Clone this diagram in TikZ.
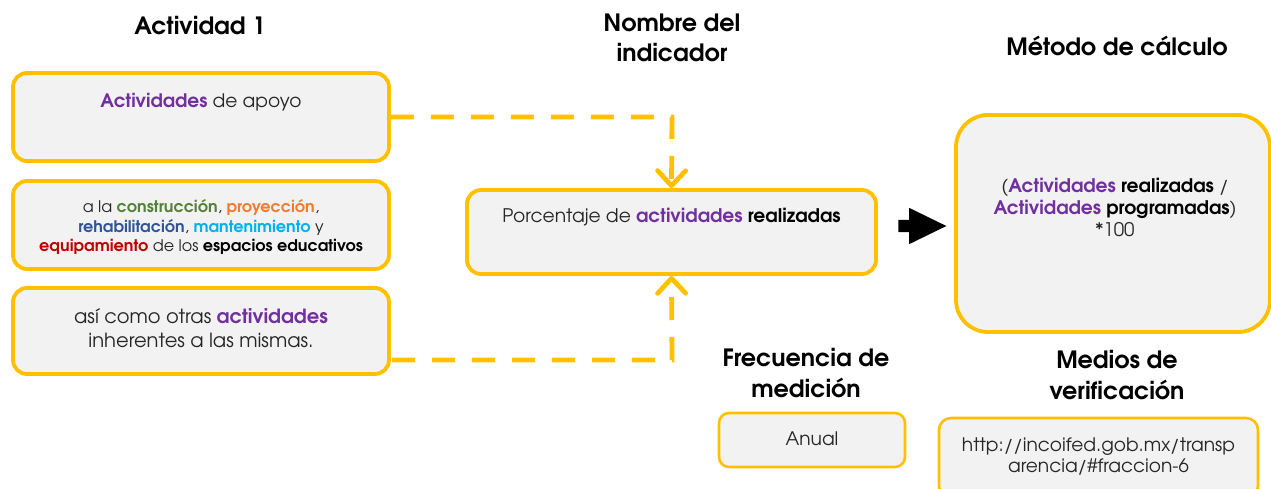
\documentclass[tikz,border=0pt]{standalone}
\usepackage{fontspec}
\setmainfont{texgyreadventor}[Extension=.otf, UprightFont=*-regular, BoldFont=*-bold, ItalicFont=*-italic, BoldItalicFont=*-bolditalic]
\usetikzlibrary{arrows.meta,shapes.arrows}
\definecolor{ycol}{HTML}{FFC000}
\definecolor{boxgray}{HTML}{F2F2F2}
\definecolor{purp}{HTML}{7030A0}
\definecolor{cgreen}{HTML}{538135}
\definecolor{corange}{HTML}{ED7D31}
\definecolor{cblue}{HTML}{2F5597}
\definecolor{clblue}{HTML}{00B0F0}
\definecolor{cred}{HTML}{C00000}
\definecolor{txt}{HTML}{262626}
\newcommand\pur[1]{\textbf{\textcolor{purp}{#1}}}
\newcommand\colb[2]{\textbf{\textcolor{#1}{#2}}}
\begin{document}
\begin{tikzpicture}[x=1pt,y=-1pt,
  box/.style={draw=ycol, line width=3.8pt, fill=boxgray, rounded corners=14pt, inner sep=0pt},
  ttl/.style={font=\bfseries\fontsize{23.8}{30.5}\selectfont, align=center, text=black},
  btxt/.style={align=center, text=txt},
  dashconn/.style={draw=ycol, line width=4.8pt, dash pattern=on 23pt off 17pt},
  tip/.style={-{Straight Barb[length=15pt,width=28pt,line cap=round,line join=round]}}
]
\useasboundingbox (0,0) rectangle (1271,489);
\begin{scope}
\clip (0,0) rectangle (1271,489);
% titles
\node[ttl] (t1) at (200,26) {Actividad 1};
\node[ttl] (t2) at (672,38) {Nombre del\\indicador};
\node[ttl] (t3) at (1117,46) {Método de cálculo};
\node[ttl] (t4) at (806,373) {Frecuencia de\\medición};
\node[ttl] (t5) at (1117,375) {Medios de\\verificación};
% left boxes
\node[box, minimum width=376pt, minimum height=88pt] (b1) at (201,117) {};
\node[box, minimum width=376pt, minimum height=88pt] (b2) at (201,225) {};
\node[box, minimum width=376pt, minimum height=86pt] (b3) at (201,331) {};
\node[btxt, font=\fontsize{18.6}{22}\selectfont] (b1t) at (201,102) {\pur{Actividades} de apoyo};
\node[btxt, font=\fontsize{16}{19.5}\selectfont] (b2t) at (201,227) {a la \colb{cgreen}{construcción}, \colb{corange}{proyección},\\
\colb{cblue}{rehabilitación}, \colb{clblue}{mantenimiento} y\\
\colb{cred}{equipamiento} de los \textbf{\textcolor{black}{espacios educativos}}};
\node[btxt, font=\fontsize{19.5}{24}\selectfont] (b3t) at (201,328) {así como otras \pur{actividades}\\inherentes a las mismas.};
% indicator
\node[box, minimum width=409pt, minimum height=84pt] (ind) at (671.5,232) {};
\node[btxt, font=\fontsize{18.7}{22}\selectfont] (indt) at (671.5,217) {Porcentaje de \pur{actividades} \textbf{\textcolor{black}{realizadas}}};
% metodo
\node[box, rounded corners=32pt, minimum width=314pt, minimum height=217pt] (met) at (1113,223.5) {};
\node[btxt, font=\fontsize{18.7}{22}\selectfont] (mett) at (1115,207) {(\pur{Actividades} \textbf{\textcolor{black}{realizadas}} /\\\pur{Actividades} \textbf{\textcolor{black}{programadas}})\\{}*100};
% frecuencia
\node[box, line width=2.6pt, rounded corners=10pt, minimum width=186pt, minimum height=54pt] (anu) at (812,440) {};
\node[btxt, font=\fontsize{18.6}{22}\selectfont] (anut) at (812,439) {Anual};
% medios
\node[box, line width=2.6pt, rounded corners=12pt, minimum width=319pt, minimum height=80pt] (url) at (1098.5,458) {};
\node[btxt, font=\fontsize{18.6}{21}\selectfont] (urlt) at (1098.5,457) {http://incoifed.gob.mx/transp\\arencia/\#fraccion-6};
% connectors
\coordinate (c1) at (672,117);
\coordinate (c3s) at (392,360);
\coordinate (c3) at (672,360);
\draw[dashconn, tip] (b1.east) -- (c1) -- (ind.north);
\draw[dashconn, tip] (c3s) -- (c3) -- (ind.south);
\node[single arrow, fill=black, draw=none, minimum height=48pt, inner sep=6pt,
  single arrow head extend=12pt, single arrow tip angle=52] (arr) at (916,226) {};
\end{scope}
\end{tikzpicture}
\end{document}
